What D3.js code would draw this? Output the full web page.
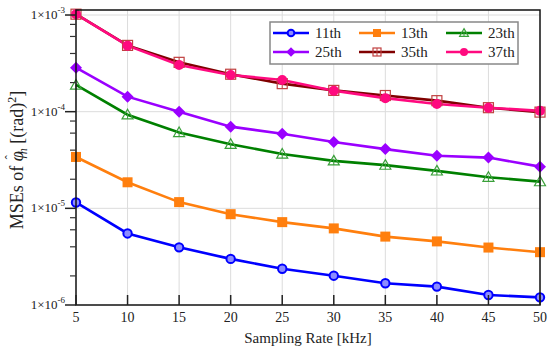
<!DOCTYPE html>
<html>
<head>
<meta charset="utf-8">
<script src="https://cdn.jsdelivr.net/npm/d3@7"></script>
<style>
  body { margin: 0; background: #fff; }
  svg { display: block; font-family: 'Liberation Serif', 'Times New Roman', serif; }
</style>
</head>
<body>
<svg id="chart" width="550" height="351"></svg>
<script>
// sampling rates (kHz)
const rates = [5, 10, 15, 20, 25, 30, 35, 40, 45, 50]

// MSE values, one array per harmonic
const h11 = [1.15e-5, 5.5e-6, 3.95e-6, 3.0e-6, 2.37e-6, 2.01e-6, 1.68e-6, 1.55e-6, 1.27e-6, 1.2e-6]
const h13 = [3.4e-5, 1.86e-5, 1.16e-5, 8.7e-6, 7.2e-6, 6.2e-6, 5.1e-6, 4.55e-6, 3.93e-6, 3.52e-6]
const h23 = [1.89e-4, 9.3e-5, 6.1e-5, 4.6e-5, 3.65e-5, 3.1e-5, 2.8e-5, 2.44e-5, 2.1e-5, 1.89e-5]
const h25 = [2.85e-4, 1.43e-4, 1.0e-4, 7.0e-5, 5.9e-5, 4.85e-5, 4.1e-5, 3.5e-5, 3.35e-5, 2.7e-5]
const h35 = [1.02e-3, 4.85e-4, 3.24e-4, 2.44e-4, 1.95e-4, 1.66e-4, 1.47e-4, 1.3e-4, 1.1e-4, 9.9e-5]
const h37 = [1.02e-3, 4.82e-4, 3.04e-4, 2.4e-4, 2.13e-4, 1.65e-4, 1.38e-4, 1.2e-4, 1.1e-4, 1.02e-4]

const seriesNames = ['11th', '13th', '23th', '25th', '35th', '37th']
const seriesColors = ['#0000ff', '#ff7f0e', '#008000', '#9a00ff', '#800000', '#ff0a7f']
const seriesMarkers = ['circle', 'square', 'triangle', 'diamond', 'squareplus', 'dot']

const xTicks = [5, 10, 15, 20, 25, 30, 35, 40, 45, 50]
const yMajor = [1e-3, 1e-4, 1e-5, 1e-6]

const series = [h11, h13, h23, h25, h35, h37].map((vals, i) => ({
  name: seriesNames[i], color: seriesColors[i], marker: seriesMarkers[i], vals
}))

const svg = d3.select('#chart')
const plotL = 76, plotR = 540, plotT = 10, plotB = 305

const x = d3.scaleLinear().domain([5, 50]).range([plotL, plotR])
const y = d3.scaleLog().domain([1e-6, 1.127e-3]).range([plotB, plotT])

// grid
const grid = svg.append('g').attr('stroke', '#dcdcdc').attr('stroke-width', 1)
grid.selectAll('.vx').data(xTicks.slice(1, -1)).enter().append('line')
  .attr('x1', (d) => x(d)).attr('x2', (d) => x(d))
  .attr('y1', plotT).attr('y2', plotB)
grid.selectAll('.hy').data(yMajor.slice(0, -1)).enter().append('line')
  .attr('x1', plotL).attr('x2', plotR)
  .attr('y1', (d) => y(d)).attr('y2', (d) => y(d))

// lines
const line = d3.line().x((d, i) => x(rates[i])).y((d) => y(d))
series.forEach((s) => {
  svg.append('path')
    .attr('d', line(s.vals))
    .attr('fill', 'none')
    .attr('stroke', s.color)
    .attr('stroke-width', 2.6)
})

function drawMarker(g, type, color, cx, cy, scale) {
  const k = scale || 1
  if (type === 'circle') {
    g.append('circle').attr('cx', cx).attr('cy', cy).attr('r', 4.2 * k)
      .attr('fill', '#8c8cff').attr('stroke', color).attr('stroke-width', 2)
  } else if (type === 'dot') {
    g.append('circle').attr('cx', cx).attr('cy', cy).attr('r', 5 * k).attr('fill', color)
  } else if (type === 'square') {
    const a = 5 * k
    g.append('rect').attr('x', cx - a).attr('y', cy - a).attr('width', 2 * a).attr('height', 2 * a)
      .attr('fill', color)
  } else if (type === 'diamond') {
    const a = 6 * k
    g.append('path').attr('d', `M${cx},${cy - a}L${cx + a},${cy}L${cx},${cy + a}L${cx - a},${cy}Z`)
      .attr('fill', color)
  } else if (type === 'triangle') {
    const a = 5.5 * k
    g.append('path').attr('d', `M${cx},${cy - a}L${cx + a},${cy + a * 0.75}L${cx - a},${cy + a * 0.75}Z`)
      .attr('fill', 'none').attr('stroke', '#3aa03a').attr('stroke-width', 1.2)
    g.append('line').attr('x1', cx).attr('x2', cx).attr('y1', cy - a * 0.3).attr('y2', cy + a * 0.75)
      .attr('stroke', '#3aa03a').attr('stroke-width', 1)
  } else if (type === 'squareplus') {
    const a = 5 * k
    g.append('rect').attr('x', cx - a).attr('y', cy - a).attr('width', 2 * a).attr('height', 2 * a)
      .attr('fill', 'none').attr('stroke', '#c04040').attr('stroke-width', 1.2)
    g.append('line').attr('x1', cx).attr('x2', cx).attr('y1', cy - a).attr('y2', cy + a)
      .attr('stroke', '#c04040').attr('stroke-width', 1)
  }
}

// markers
series.forEach((s) => {
  const g = svg.append('g')
  s.vals.forEach((v, i) => drawMarker(g, s.marker, s.color, x(rates[i]), y(v)))
})

// frame
svg.append('rect').attr('x', plotL).attr('y', plotT).attr('width', plotR - plotL).attr('height', plotB - plotT)
  .attr('fill', 'none').attr('stroke', '#111').attr('stroke-width', 1.5)

// x ticks (inside) and labels
svg.selectAll('.xt').data(xTicks).enter().append('line')
  .attr('x1', (d) => x(d)).attr('x2', (d) => x(d))
  .attr('y1', plotB).attr('y2', plotB - 10)
  .attr('stroke', '#222').attr('stroke-width', 1.5)
svg.selectAll('.xl').data(xTicks).enter().append('text')
  .attr('x', (d) => x(d)).attr('y', plotB + 17)
  .attr('text-anchor', 'middle').attr('font-size', 14).attr('fill', '#222')
  .text((d) => d)

// y ticks (outside): majors and minors 2,4,6,8
const yMinor = []
for (let e = -6; e < -2; e++) {
  [2, 4, 6, 8].forEach((m) => yMinor.push(m * Math.pow(10, e)))
}
svg.selectAll('.ym').data(yMinor).enter().append('line')
  .attr('x1', plotL - 6).attr('x2', plotL)
  .attr('y1', (d) => y(d)).attr('y2', (d) => y(d))
  .attr('stroke', '#333').attr('stroke-width', 1.2)
svg.selectAll('.yM').data(yMajor).enter().append('line')
  .attr('x1', plotL - 11).attr('x2', plotL)
  .attr('y1', (d) => y(d)).attr('y2', (d) => y(d))
  .attr('stroke', '#222').attr('stroke-width', 1.5)
const yl = svg.selectAll('.yl').data(yMajor).enter().append('text')
  .attr('x', plotL - 11).attr('y', (d) => y(d) + 4)
  .attr('text-anchor', 'end').attr('font-size', 13).attr('fill', '#222')
yl.append('tspan').text('1×10')
yl.append('tspan').attr('dy', -6).attr('font-size', 9)
  .text((d) => '-' + Math.round(-Math.log10(d)))

// axis titles
svg.append('text')
  .attr('x', (plotL + plotR) / 2).attr('y', 343)
  .attr('text-anchor', 'middle').attr('font-size', 15).attr('fill', '#222')
  .text('Sampling Rate [kHz]')

const yt = svg.append('text')
  .attr('transform', 'translate(23,160) rotate(-90)')
  .attr('text-anchor', 'middle').attr('font-size', 18).attr('fill', '#222')
yt.append('tspan').text('MSEs of ')
yt.append('tspan').attr('font-style', 'italic').text('φ')
yt.append('tspan').attr('dx', -8).attr('dy', -9).attr('font-size', 12).text('ˆ')
yt.append('tspan').attr('font-style', 'italic').attr('font-size', 12).attr('dx', 1).attr('dy', 13).text('h')
yt.append('tspan').attr('dy', -4).text('  [(rad)')
yt.append('tspan').attr('font-size', 12).attr('dy', -7).text('2')
yt.append('tspan').attr('dy', 7).text(']')

// legend
const lg = svg.append('g')
lg.append('rect').attr('x', 270).attr('y', 22).attr('width', 248).attr('height', 42)
  .attr('fill', '#fff').attr('stroke', '#888').attr('stroke-width', 1.5)
const colX = [273, 359, 446]
const rowY = [33, 52]
series.forEach((s, i) => {
  const cx = colX[i % 3], cy = rowY[Math.floor(i / 3)]
  lg.append('line').attr('x1', cx).attr('x2', cx + 36).attr('y1', cy).attr('y2', cy)
    .attr('stroke', s.color).attr('stroke-width', 2.6)
  drawMarker(lg, s.marker, s.color, cx + 18, cy, 0.8)
  lg.append('text').attr('x', cx + 42).attr('y', cy + 5)
    .attr('font-size', 15).attr('fill', '#222').text(s.name)
})
</script>
</body>
</html>
